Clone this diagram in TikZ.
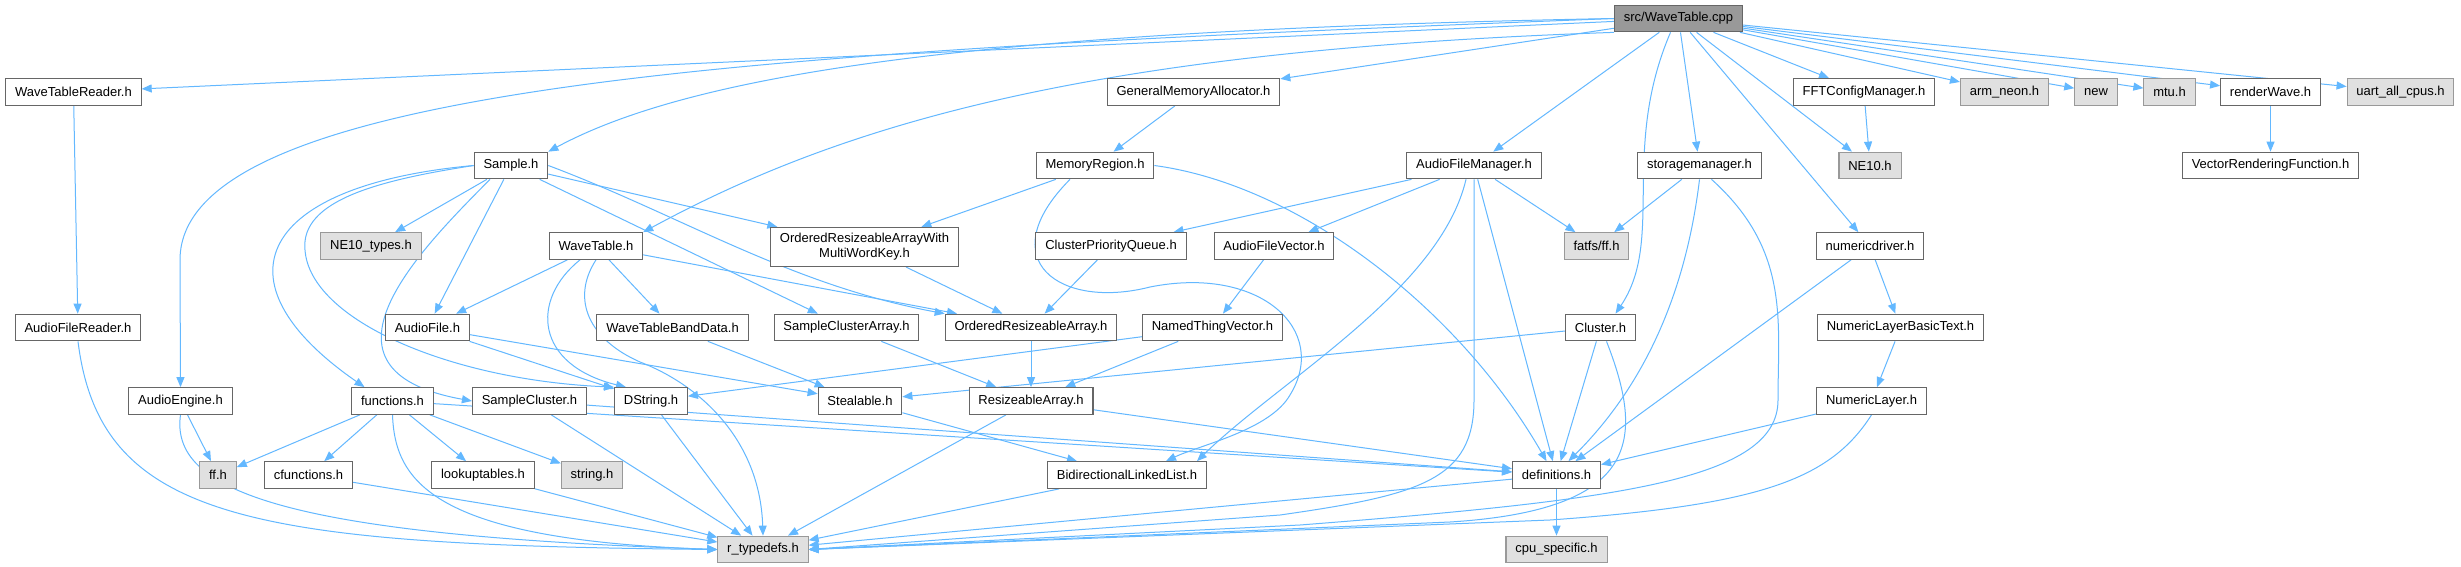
\documentclass[tikz,border=0pt]{standalone}
\usepackage{fontspec}
\setmainfont{Liberation Sans}
\usetikzlibrary{arrows.meta,calc,backgrounds}
\definecolor{edgeblue}{RGB}{99,184,255}
\definecolor{boxline}{RGB}{102,102,102}
\definecolor{extline}{RGB}{153,153,153}
\definecolor{extfill}{RGB}{224,224,224}
\definecolor{rootfill}{RGB}{153,153,153}

\begin{document}
\begin{tikzpicture}[x=0.75pt,y=-0.75pt,
    hdrbox/.style={draw=boxline,fill=white,line width=0.8pt,inner xsep=7pt,inner ysep=0pt,
      minimum height=20pt,font=\fontsize{9.75}{11.25}\selectfont},
    extbox/.style={hdrbox,draw=extline,fill=extfill},
    rootbox/.style={hdrbox,fill=rootfill},
    dep/.style={draw=edgeblue,line width=0.75pt,-{Triangle[length=7.5pt,width=6pt]}}]
  \useasboundingbox (0,0) rectangle (2461,567);

  % row 0
  \node[rootbox] (cpp) at (1678.5,18.5) {src/WaveTable.cpp};
  % row 1
  \node[hdrbox] (wtreader) at (73.5,92) {WaveTableReader.h};
  \node[hdrbox] (gmalloc) at (1193.5,92) {GeneralMemoryAllocator.h};
  \node[hdrbox] (fftcfg) at (1864,92) {FFTConfigManager.h};
  \node[extbox] (armneon) at (2004.5,92) {arm\_neon.h};
  \node[extbox] (newhdr) at (2096,92) {new};
  \node[extbox] (mtu) at (2169.5,92) {mtu.h};
  \node[hdrbox] (renderwave) at (2270.5,92) {renderWave.h};
  \node[extbox] (uart) at (2400.5,92) {uart\_all\_cpus.h};
  % row 2
  \node[hdrbox] (sample) at (511,165.5) {Sample.h};
  \node[hdrbox] (memregion) at (1095,165.5) {MemoryRegion.h};
  \node[hdrbox] (afmanager) at (1474,165.5) {AudioFileManager.h};
  \node[hdrbox] (storage) at (1699.5,165.5) {storagemanager.h};
  \node[extbox] (neten) at (1870,165.5) {NE10.h};
  \node[hdrbox] (vecrender) at (2270.5,165.5) {VectorRenderingFunction.h};
  % row 3
  \node[extbox] (netypes) at (371,246) {NE10\_types.h};
  \node[hdrbox] (wavetable) at (596,246) {WaveTable.h};
  \node[hdrbox,align=center,inner ysep=4.5pt] (orawmk) at (864.5,247) {OrderedResizeableArrayWith\\MultiWordKey.h};
  \node[hdrbox] (cpqueue) at (1111,246) {ClusterPriorityQueue.h};
  \node[hdrbox] (afvector) at (1274,246) {AudioFileVector.h};
  \node[extbox] (fatff) at (1596.5,246) {fatfs/ff.h};
  \node[hdrbox] (numdriver) at (1870,246) {numericdriver.h};
  % row 4
  \node[hdrbox] (afreader) at (78,327.5) {AudioFileReader.h};
  \node[hdrbox] (audiofile) at (427.5,327.5) {AudioFile.h};
  \node[hdrbox] (wtband) at (672.5,327.5) {WaveTableBandData.h};
  \node[hdrbox] (scarray) at (846.5,327.5) {SampleClusterArray.h};
  \node[hdrbox] (orarray) at (1031,327.5) {OrderedResizeableArray.h};
  \node[hdrbox] (ntvector) at (1212.5,327.5) {NamedThingVector.h};
  \node[hdrbox] (cluster) at (1600.5,327.5) {Cluster.h};
  \node[hdrbox] (nlbasic) at (1900.5,327.5) {NumericLayerBasicText.h};
  % row 5
  \node[hdrbox] (aengine) at (180.5,401) {AudioEngine.h};
  \node[hdrbox] (functions) at (392.5,401) {functions.h};
  \node[hdrbox] (scluster) at (529.5,401) {SampleCluster.h};
  \node[hdrbox] (dstring) at (651,401) {DString.h};
  \node[hdrbox] (stealable) at (860,401) {Stealable.h};
  \node[hdrbox] (rarray) at (1031,401) {ResizeableArray.h};
  \node[hdrbox] (nlayer) at (1871.5,401) {NumericLayer.h};
  % row 6
  \node[extbox] (ffh) at (218,475) {ff.h};
  \node[hdrbox] (cfunctions) at (308.5,475) {cfunctions.h};
  \node[hdrbox] (lookup) at (483,475) {lookuptables.h};
  \node[extbox] (stringh) at (592,475) {string.h};
  \node[hdrbox] (bdlist) at (1127,475) {BidirectionalLinkedList.h};
  \node[hdrbox] (defs) at (1556.5,475) {definitions.h};
  % row 7
  \node[extbox] (rtypedefs) at (763,549.5) {r\_typedefs.h};
  \node[extbox] (cpuspec) at (1556.5,549.5) {cpu\_specific.h};

  \begin{scope}[on background layer]
    \fill[white] (0,0) rectangle (2461,567);
    % src/WaveTable.cpp
    \foreach \t in {wtreader,gmalloc,afmanager,storage,neten,numdriver,fftcfg,armneon,newhdr,mtu,renderwave,uart}
      \draw[dep] (cpp) -- (\t);
    \draw[dep] (cpp.west) .. controls (800,50) and (180,80) .. (180,260) -- (aengine.north);
    \draw[dep] (cpp.west) .. controls (1000,30) and (700,70) .. (sample.north east);
    \draw[dep] (cpp.south west) .. controls (1100,50) and (850,120) .. (wavetable.north east);
    \draw[dep] ($(cpp.south)+(-8,0)$) .. controls (1620,150) and (1665,240) .. ($(cluster.north)+(15,0)$);

    \draw[dep] (wtreader) -- (afreader);
    \draw[dep] (afreader.south) .. controls (100,520) and (250,545) .. (rtypedefs.west);
    \draw[dep] (aengine) -- (ffh);
    \draw[dep] (aengine.south) .. controls (170,490) and (280,535) .. (rtypedefs.west);

    % Sample.h
    \foreach \t in {netypes,audiofile,orawmk,scarray}
      \draw[dep] (sample) -- (\t);
    \draw[dep] (sample.east) .. controls (680,215) and (790,285) .. (orarray.north west);
    \draw[dep] (sample.west) .. controls (260,185) and (210,280) .. ($(functions.north)+(-28,0)$);
    \draw[dep] ($(sample.south)+(-21,0)$) .. controls (420,250) and (300,370) .. (scluster.west);
    \draw[dep] (sample.west) .. controls (380,180) and (300,200) .. (305,250)
      .. controls (310,320) and (450,380) .. (dstring.north west);

    % WaveTable.h
    \foreach \t in {audiofile,wtband,orarray}
      \draw[dep] (wavetable) -- (\t);
    \draw[dep] ($(wavetable.south)+(-16,0)$) .. controls (530,300) and (535,365) .. ($(dstring.north)+(-25,0)$);
    \draw[dep] (wavetable.south) .. controls (570,300) and (590,340) .. (640,362)
      .. controls (700,385) and (760,440) .. (rtypedefs.north);

    \draw[dep] (audiofile) -- (dstring);
    \draw[dep] (audiofile) -- (stealable);
    \draw[dep] (wtband) -- (stealable);
    \draw[dep] (scarray) -- (rarray);
    \draw[dep] (orawmk) -- (orarray);
    \draw[dep] (orarray) -- (rarray);
    \draw[dep] (cpqueue) -- (orarray);
    \draw[dep] (afvector) -- (ntvector);
    \draw[dep] (ntvector) -- (rarray);
    \draw[dep] (ntvector) -- (dstring);

    % memory
    \draw[dep] (gmalloc) -- (memregion);
    \draw[dep] (memregion) -- (orawmk);
    \draw[dep] ($(memregion.south)+(-25,0)$) .. controls (990,260) and (1060,310) .. (1150,287)
      .. controls (1260,265) and (1330,330) .. (1290,395)
      .. controls (1270,430) and (1200,445) .. ($(bdlist.north)+(39,0)$);
    \draw[dep] (memregion.east) .. controls (1300,185) and (1460,310) .. ($(defs.north)+(-10,0)$);

    % AudioFileManager.h
    \foreach \t in {cpqueue,afvector,fatff,defs}
      \draw[dep] (afmanager) -- (\t);
    \draw[dep] ($(afmanager.south)+(-8,0)$) .. controls (1440,290) and (1280,380) .. ($(bdlist.north)+(70,0)$);
    \draw[dep] (afmanager.south) -- (1474,400) .. controls (1474,480) and (1420,495) .. (1280,515) -- (rtypedefs.east);

    % storagemanager.h
    \draw[dep] (storage) -- (fatff);
    \draw[dep] (storage.south) .. controls (1685,300) and (1640,390) .. ($(defs.north)+(12,0)$);
    \draw[dep] ($(storage.south)+(12,0)$) .. controls (1790,250) and (1778,320) .. (1778,400)
      .. controls (1778,480) and (1620,500) .. (1300,525) -- (rtypedefs.east);

    \draw[dep] (fftcfg) -- (neten);
    \draw[dep] (renderwave) -- (vecrender);
    \draw[dep] (numdriver) -- (nlbasic);
    \draw[dep] (numdriver) -- (defs);
    \draw[dep] (nlbasic) -- (nlayer);
    \draw[dep] (nlayer) -- (defs);
    \draw[dep] (nlayer.south) .. controls (1830,480) and (1760,505) .. (1550,520) -- (rtypedefs.east);

    % Cluster.h
    \draw[dep] (cluster) -- (stealable);
    \draw[dep] (cluster) -- (defs);
    \draw[dep] ($(cluster.south)+(6,0)$) .. controls (1645,440) and (1640,510) .. (1450,522) -- (rtypedefs.east);

    % functions.h
    \foreach \t in {ffh,cfunctions,lookup,stringh}
      \draw[dep] (functions) -- (\t);
    \draw[dep] (functions.south) .. controls (395,480) and (430,540) .. (rtypedefs.west);

    \draw[dep] (stealable) -- (bdlist);
    \foreach \s in {functions,scluster,rarray}
      \draw[dep] (\s) -- (defs);
    \foreach \s in {cfunctions,lookup,scluster,dstring,rarray,bdlist,defs}
      \draw[dep] (\s) -- (rtypedefs);
    \draw[dep] (defs) -- (cpuspec);
  \end{scope}
\end{tikzpicture}
\end{document}
